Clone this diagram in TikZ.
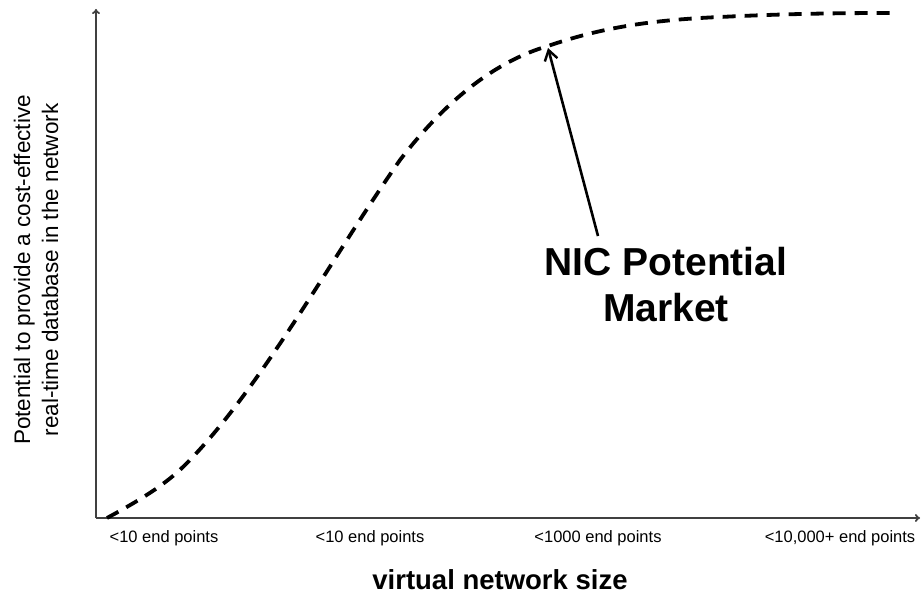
\documentclass[tikz,border=0pt]{standalone}
\usepackage{fontspec}
\setmainfont{Liberation Sans}
\usetikzlibrary{arrows.meta}
\begin{document}
\begin{tikzpicture}[x=1pt,y=-1pt,
  axis/.style={draw=black!75, line width=1.8pt, -{To[length=5pt,width=8pt]}},
  curve/.style={line width=3.8pt, dash pattern=on 13pt off 9pt, black},
  pointer/.style={line width=2.6pt, -{Straight Barb[length=10pt,width=13pt,line width=2.4pt]}},
  tick/.style={font=\fontsize{16.5}{19}\selectfont, anchor=center},
  ylab/.style={font=\fontsize{22.5}{28}\selectfont, align=center, rotate=90},
  callout/.style={font=\bfseries\fontsize{39}{46}\selectfont, align=center}]
  \useasboundingbox (0,0) rectangle (923,594);
  % axes
  \coordinate (origin) at (96,518);
  \coordinate (ytop) at (96,9);
  \coordinate (xend) at (920,518);
  \draw[axis] (origin) -- (ytop);
  \draw[axis] (origin) -- (xend);
  % growth curve
  \draw[curve] (107,518) .. controls (140,500) and (165,485) .. (185,465)
     .. controls (260,390) and (330,260) .. (400,160)
     .. controls (450,95) and (500,60) .. (548,46)
     .. controls (600,28) and (650,20) .. (720,17)
     .. controls (800,13) and (860,13) .. (898,13);
  \coordinate (peak) at (548,48);
  % callout
  \node[callout] (nic) at (666,285) {NIC Potential\\Market};
  \coordinate (ptail) at (598,236);
  \draw[pointer] (ptail) -- (peak);
  % tick labels
  \node[tick] (t1) at (164,538) {<10 end points};
  \node[tick] (t2) at (370,538) {<10 end points};
  \node[tick] (t3) at (598,538) {<1000 end points};
  \node[tick] (t4) at (840,538) {<10,000+ end points};
  % axis titles
  \node[font=\bfseries\fontsize{27.5}{32}\selectfont] (xt) at (500,580) {virtual network size};
  \node[ylab] (yt) at (36,270) {Potential to provide a cost-effective\\real-time database in the network};
\end{tikzpicture}
\end{document}
